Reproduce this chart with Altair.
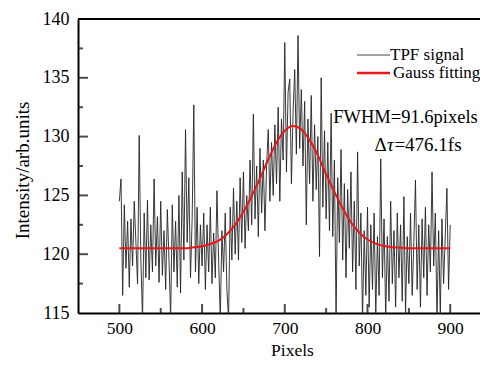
import altair as alt
import pandas as pd

# ---------------- data ----------------
sig_x = list(range(500, 901, 2))
sig_y = [
    124.5, 126.4, 116.5, 124.2, 118.8, 122.8, 117.2, 123.0, 119.0, 124.5,
    121.0, 117.5, 130.1, 119.5, 114.5, 123.5, 118.0, 124.6, 117.8, 122.5,
    118.5, 126.4, 119.0, 123.2, 117.6, 124.5, 118.2, 122.0, 117.0, 123.8,
    119.5, 114.5, 124.2, 118.5, 122.8, 117.2, 125.0, 116.7, 127.0, 119.5,
    130.6, 121.0, 126.5, 118.0, 123.0, 132.7, 118.5, 124.0, 117.5, 122.5,
    119.0, 123.5, 117.0, 122.5, 118.5, 124.0, 117.5, 121.8, 118.0, 125.4,
    119.5, 114.5, 122.0, 118.5, 123.5, 117.0, 114.5, 124.0, 119.5, 125.6,
    120.0, 124.5, 119.5, 126.5, 121.0, 127.0, 120.5, 125.0, 122.0, 128.0,
    122.5, 131.9, 123.0, 127.5, 121.5, 129.0, 123.5, 128.0, 122.0, 127.5,
    130.6, 124.5, 129.5, 125.0, 131.0, 126.0, 132.5, 124.5, 131.5, 128.0,
    138.0, 127.0, 133.8, 134.9, 126.0, 132.0, 135.7, 128.5, 138.6, 129.0,
    134.0, 127.5, 133.0, 122.5, 131.5, 126.0, 133.5, 124.5, 131.0, 125.5,
    130.0, 119.8, 135.0, 124.0, 130.5, 123.0, 129.5, 122.0, 132.0, 121.5,
    128.0, 114.5, 126.5, 121.0, 128.9, 119.5, 126.0, 118.0, 125.5, 120.5,
    127.0, 118.5, 124.5, 117.0, 128.7, 119.0, 123.5, 114.5, 122.0, 116.5,
    124.0, 115.5, 122.5, 117.0, 123.5, 114.8, 121.5, 116.5, 128.1, 118.0,
    123.0, 114.5, 121.5, 116.0, 124.5, 117.5, 122.0, 115.5, 123.5, 118.0,
    122.5, 116.0, 124.9, 115.0, 121.5, 117.5, 123.5, 116.5, 121.0, 126.3,
    117.0, 122.5, 115.5, 123.0, 118.0, 124.0, 116.5, 122.5, 118.5, 127.0,
    119.0, 123.5, 114.5, 122.0, 114.8, 123.0, 117.5, 121.5, 125.6, 117.0,
    122.5,
]

fit_x = list(range(500, 901, 10))
fit_y = [
    120.5, 120.5, 120.5, 120.5, 120.5, 120.5, 120.5, 120.5,
    120.5, 120.59, 120.68, 120.87, 121.15, 121.7, 122.5, 123.6, 124.95,
    126.45, 128.05, 129.5, 130.5, 130.9, 130.6, 129.7, 128.4, 126.8,
    125.3, 123.9, 122.7, 121.85, 121.25, 120.9, 120.7, 120.6, 120.55,
    120.5, 120.5, 120.5, 120.5, 120.5, 120.5,
]

series_names = ["TPF signal", "Gauss fitting"]
series_colors = ["#222222", "#e8161b"]
series_widths = [0.9, 2.0]

x_labels = [500, 600, 700, 800, 900]
y_labels = [115, 120, 125, 130, 135, 140]
x_major = [500, 600, 700, 800, 900]
x_minor = [550, 650, 750, 850]
y_major = [120, 125, 130, 135]
y_minor = [117.5, 122.5, 127.5, 132.5, 137.5]

ann_fwhm = {"text": "FWHM=91.6pixels", "x": 758.5, "y": 131.7}
ann_tau = [("Δ", 808.5, 129.3, "normal"), ("τ", 823.5, 129.3, "italic"),
           ("=476.1fs", 832.5, 129.3, "normal")]

FONT = "Liberation Serif"
W, H = 402, 294

# ---------------- frames ----------------
sig_df = pd.DataFrame({"x": sig_x, "y": sig_y, "series": series_names[0]})
fit_df = pd.DataFrame({"x": fit_x, "y": fit_y, "series": series_names[1]})

xscale = alt.Scale(domain=[450, 936], nice=False, zero=False)
yscale = alt.Scale(domain=[115, 140], nice=False, zero=False)
cscale = alt.Scale(domain=series_names, range=series_colors)
wscale = alt.Scale(domain=series_names, range=series_widths)

xaxis = alt.Axis(values=x_labels, ticks=False, grid=False, title="Pixels",
                 labelFont=FONT, labelFontSize=17.5, labelColor="black",
                 labelPadding=6, titleFont=FONT, titleFontSize=17.5,
                 titleFontWeight="normal", titleColor="black",
                 titleX=214, titleY=42, titleBaseline="alphabetic",
                 domainColor="black", domainWidth=2)
yaxis = alt.Axis(values=y_labels, ticks=False, grid=False, title="Intensity/arb.units",
                 labelFont=FONT, labelFontSize=18, labelColor="black",
                 labelPadding=9, titleFont=FONT, titleFontSize=19,
                 titleFontWeight="normal", titleColor="black",
                 titleX=-56, titleY=151, titleBaseline="middle",
                 domainColor="black", domainWidth=2)

signal = alt.Chart(sig_df).mark_line(clip=True).encode(
    x=alt.X("x:Q", scale=xscale, axis=xaxis),
    y=alt.Y("y:Q", scale=yscale, axis=yaxis),
    color=alt.Color("series:N", scale=cscale, legend=None),
    strokeWidth=alt.StrokeWidth("series:N", scale=wscale, legend=None),
)

fit = alt.Chart(fit_df).mark_line(clip=True, interpolate="monotone").encode(
    x=alt.X("x:Q", scale=xscale),
    y=alt.Y("y:Q", scale=yscale),
    color=alt.Color("series:N", scale=cscale, legend=None),
    strokeWidth=alt.StrokeWidth("series:N", scale=wscale, legend=None),
)

top_border = alt.Chart(pd.DataFrame({"y": [140]})).mark_rule(
    color="black", strokeWidth=2, clip=False).encode(y=alt.Y("y:Q", scale=yscale))

xmaj = alt.Chart(pd.DataFrame({"x": x_major})).mark_tick(
    orient="vertical", size=18, thickness=2, color="black", clip=True).encode(
    x=alt.X("x:Q", scale=xscale), y=alt.datum(115))
xmin = alt.Chart(pd.DataFrame({"x": x_minor})).mark_tick(
    orient="vertical", size=10, thickness=2, color="black", clip=True).encode(
    x=alt.X("x:Q", scale=xscale), y=alt.datum(115))
ymaj = alt.Chart(pd.DataFrame({"y": y_major})).mark_tick(
    orient="horizontal", size=20, thickness=2, color="black", clip=True).encode(
    y=alt.Y("y:Q", scale=yscale), x=alt.datum(450))
ymin = alt.Chart(pd.DataFrame({"y": y_minor})).mark_tick(
    orient="horizontal", size=10, thickness=2, color="black", clip=True).encode(
    y=alt.Y("y:Q", scale=yscale), x=alt.datum(450))

fwhm = alt.Chart(pd.DataFrame([ann_fwhm])).mark_text(
    font=FONT, fontSize=18.5, align="left", baseline="middle", color="black").encode(
    x=alt.X("x:Q", scale=xscale), y=alt.Y("y:Q", scale=yscale), text="text:N")

tau_layers = []
for t, xv, yv, style in ann_tau:
    tau_layers.append(alt.Chart(pd.DataFrame({"text": [t], "x": [xv], "y": [yv]})).mark_text(
        font=FONT, fontSize=19, align="left", baseline="middle", color="black",
        fontStyle=style).encode(
        x=alt.X("x:Q", scale=xscale), y=alt.Y("y:Q", scale=yscale), text="text:N"))

# ---------------- legend (guide) ----------------
leg_src = pd.DataFrame({"k": [0]})
legend_layers = []
for name, color, sw, ly, tx in [(series_names[0], "#444444", 1.0, 36, 312),
                                (series_names[1], series_colors[1], 2.5, 54, 315)]:
    legend_layers.append(alt.Chart(leg_src).mark_rule(color=color, strokeWidth=sw).encode(
        x=alt.value(279), x2=alt.value(312), y=alt.value(ly)))
    legend_layers.append(alt.Chart(leg_src).mark_text(
        font=FONT, fontSize=17, align="left", baseline="middle", color="black").encode(
        x=alt.value(tx), y=alt.value(ly), text=alt.value(name)))

chart = alt.layer(signal, fit, top_border, xmaj, xmin, ymaj, ymin, fwhm,
                  *tau_layers, *legend_layers).properties(
    width=W, height=H,
    autosize=alt.AutoSizeParams(type="none"),
    padding={"left": 70, "top": 11, "right": 0, "bottom": 47},
    background="white",
).configure_view(stroke=None)

chart.save("out.html", embed_options={"renderer": "svg", "actions": False})
